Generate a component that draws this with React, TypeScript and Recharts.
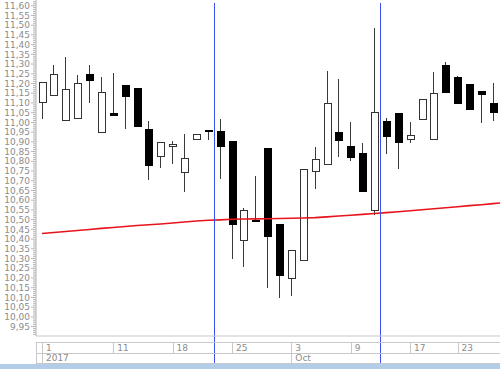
import React from "react";
import { ComposedChart, Bar, Line, XAxis, YAxis, ReferenceLine } from "recharts";

// ---- data ----
const sessions = [
  "Sep 1", "Sep 4", "Sep 5", "Sep 6", "Sep 7", "Sep 8", "Sep 11", "Sep 12", "Sep 13", "Sep 14",
  "Sep 15", "Sep 18", "Sep 19", "Sep 20", "Sep 21", "Sep 22", "Sep 25", "Sep 26", "Sep 27", "Sep 28",
  "Sep 29", "Oct 3", "Oct 4", "Oct 5", "Oct 6", "Oct 7", "Oct 9", "Oct 10", "Oct 11", "Oct 12",
  "Oct 13", "Oct 17", "Oct 18", "Oct 19", "Oct 20", "Oct 23", "Oct 24", "Oct 25", "Oct 26", "Oct 27",
];

const open = [
  11.1, 11.14, 11.01, 11.02, 11.247, 10.95, 11.047, 11.189, 11.175, 10.961,
  10.824, 10.875, 10.743, 10.913, 10.957, 10.954, 10.9, 10.395, 10.498, 10.865,
  10.474, 10.195, 10.2925, 10.745, 10.785, 10.947, 10.877, 10.839, 10.546, 11.004,
  11.048, 10.913, 11.014, 10.913, 11.295, 11.232, 11.196, 11.161, 11.096, null,
];
const high = [
  11.21, 11.295, 11.338, 11.244, 11.295, 11.235, 11.254, 11.19, 11.175, 11.006,
  10.899, 10.904, 10.939, 10.939, 10.957, 11.016, 10.9, 10.558, 10.724, 10.865,
  10.474, 10.339, 10.759, 10.876, 11.266, 11.222, 11.004, 10.8925, 11.487, 11.021,
  11.048, 11.004, 11.12, 11.258, 11.31, 11.24, 11.196, 11.161, 11.203, null,
];
const low = [
  11.02, 11.14, 11.01, 11.02, 11.1, 10.95, 11.037, 10.965, 10.98, 10.704,
  10.767, 10.786, 10.644, 10.913, 10.91, 10.709, 10.296, 10.258, 10.496, 10.147,
  10.096, 10.109, 10.2925, 10.66, 10.785, 10.824, 10.8, 10.644, 10.524, 10.836,
  10.759, 10.896, 11.014, 10.913, 11.156, 11.095, 11.064, 10.999, 11.009, null,
];
const close = [
  11.205, 11.247, 11.167, 11.2, 11.216, 11.156, 11.037, 11.134, 10.98, 10.776,
  10.899, 10.887, 10.812, 10.939, 10.953, 10.875, 10.4725, 10.546, 10.496, 10.414,
  10.215, 10.339, 10.759, 10.81, 11.096, 10.908, 10.818, 10.644, 11.052, 10.9285,
  10.896, 10.935, 11.12, 11.15, 11.156, 11.095, 11.064, 11.141, 11.052, null,
];
const movingAvg = [
  10.429, 10.434, 10.439, 10.444, 10.449, 10.455, 10.46, 10.465, 10.47, 10.4735,
  10.478, 10.483, 10.488, 10.493, 10.497, 10.499, 10.502, 10.503, 10.504, 10.505,
  10.506, 10.5075, 10.5085, 10.5105, 10.5145, 10.519, 10.523, 10.527, 10.532, 10.536,
  10.541, 10.5455, 10.551, 10.556, 10.561, 10.566, 10.572, 10.577, 10.5825, 10.588,
];

const dayTickIndex = [0, 6, 11, 16, 21, 26, 31, 35];
const dayTickLabels = ["1", "11", "18", "25", "3", "9", "17", "23"];
const periodTickIndex = [0, 21];
const periodTickLabels = ["2017", "Oct"];
const markerSessions = ["Sep 22", "Oct 12"];

const Y_MIN = 9.9018;
const Y_MAX = 11.6293;
const yTicks: number[] = [];
for (let k = 991; k <= 1162; k++) yTicks.push(k / 100);

const data = sessions.map((s, i) => ({
  s,
  open: open[i],
  high: high[i],
  low: low[i],
  close: close[i],
  ma: movingAvg[i],
}));

// ---- layout constants ----
const CHART_W = 511;
const CHART_H = 369;
const Y_AXIS_W = 36;
const X_AXIS_H = 33;
const BAND = (CHART_W - Y_AXIS_W) / sessions.length;
const TABLE_TOP = 342.5;
const TABLE_MID = 353.5;
const TABLE_BOT = 363.5;
const FONT = "'DejaVu Sans', Verdana, sans-serif";
const TEXT_COLOR = "#8c8c8c";
const GRID_COLOR = "#c8c8c8";
const MARKER_COLOR = "#3b4ef0";

const Candle = (props: any) => {
  const { x, y, width, height, payload } = props;
  if (payload == null || payload.high == null) return null;
  const cx = Math.round(x + width / 2) + 0.5;
  const yTop = Math.min(y, y + height);
  const yBot = Math.max(y, y + height);
  const range = payload.high - payload.low;
  const toY = (v: number) => (range === 0 ? yTop : yTop + ((payload.high - v) / range) * (yBot - yTop));
  const yo = toY(payload.open);
  const yc = toY(payload.close);
  const up = payload.close > payload.open;
  const bTop = Math.min(yo, yc);
  const bH = Math.max(Math.abs(yo - yc), 1);
  return (
    <g shapeRendering="crispEdges">
      <line x1={cx} x2={cx} y1={yTop} y2={yBot} stroke="#3a3a3a" strokeWidth={1} />
      <rect
        x={cx - 3.5}
        y={bTop}
        width={7}
        height={bH}
        fill={up ? "#ffffff" : "#000000"}
        stroke={up ? "#333333" : "#000000"}
        strokeWidth={1}
      />
    </g>
  );
};

const YTick = (props: any) => {
  const { y, payload } = props;
  const v = payload.value as number;
  const k = Math.round(v * 100);
  const major = k % 5 === 0;
  return (
    <g>
      <line x1={major ? 31 : 33} x2={Y_AXIS_W} y1={y} y2={y} stroke="#b5b5b5" strokeWidth={1} />
      {major && (
        <text x={30} y={y + 3.2} textAnchor="end" fontFamily={FONT} fontSize={9} fill={TEXT_COLOR}>
          {v.toFixed(2).replace(".", ",")}
        </text>
      )}
    </g>
  );
};

const XTick = (props: any) => {
  const { x, index } = props;
  const half = BAND / 2;
  const di = dayTickIndex.indexOf(index);
  const pi = periodTickIndex.indexOf(index);
  const vx = Math.round(x) + 0.5;
  return (
    <g shapeRendering="crispEdges">
      <line x1={x - half} x2={x + half} y1={TABLE_TOP} y2={TABLE_TOP} stroke={GRID_COLOR} />
      <line x1={x - half} x2={x + half} y1={TABLE_MID} y2={TABLE_MID} stroke={GRID_COLOR} />
      <line x1={x - half} x2={x + half} y1={TABLE_BOT} y2={TABLE_BOT} stroke={GRID_COLOR} />
      {index === 0 && (
        <line x1={Math.round(x - half) + 0.5} x2={Math.round(x - half) + 0.5} y1={TABLE_TOP} y2={TABLE_BOT} stroke={GRID_COLOR} />
      )}
      {di >= 0 && (
        <g>
          <line x1={vx} x2={vx} y1={TABLE_TOP} y2={TABLE_MID} stroke={GRID_COLOR} />
          <text x={x + 4} y={TABLE_MID - 3} fontFamily={FONT} fontSize={9} fill={TEXT_COLOR} shapeRendering="auto">
            {dayTickLabels[di]}
          </text>
        </g>
      )}
      {pi >= 0 && (
        <g>
          <line x1={vx} x2={vx} y1={TABLE_MID} y2={TABLE_BOT} stroke={GRID_COLOR} />
          <text x={x + 4} y={TABLE_BOT - 2.5} fontFamily={FONT} fontSize={9} fill={TEXT_COLOR} shapeRendering="auto">
            {periodTickLabels[pi]}
          </text>
        </g>
      )}
    </g>
  );
};

const Marker = (p: any) => {
  const xx = Math.round(p.x1) + 0.5;
  const top = Math.min(p.y1, p.y2);
  return (
    <line x1={xx} x2={xx} y1={top + 3} y2={TABLE_BOT + 0.5} stroke={MARKER_COLOR} strokeWidth={1} shapeRendering="crispEdges" />
  );
};

export default function App() {
  return (
    <div
      style={{
        position: "absolute",
        left: 0,
        top: 0,
        width: 500,
        height: 369,
        overflow: "hidden",
        background: "#ffffff",
      }}
    >
      <ComposedChart width={CHART_W} height={CHART_H} data={data} margin={{ top: 0, right: 0, bottom: 0, left: 0 }}>
        <XAxis
          dataKey="s"
          type="category"
          height={X_AXIS_H}
          interval={0}
          tickLine={false}
          axisLine={{ stroke: GRID_COLOR }}
          tick={<XTick />}
        />
        <YAxis
          type="number"
          domain={[Y_MIN, Y_MAX]}
          allowDataOverflow
          ticks={yTicks}
          interval={0}
          width={Y_AXIS_W}
          tickLine={false}
          axisLine={{ stroke: "#b5b5b5" }}
          tick={<YTick />}
        />
        <Bar
          dataKey={(d: any) => (d.high == null ? null : [d.low, d.high])}
          barSize={7}
          shape={<Candle />}
          isAnimationActive={false}
        />
        <Line
          type="linear"
          dataKey="ma"
          stroke="#e8141c"
          strokeWidth={1.6}
          dot={false}
          activeDot={false}
          isAnimationActive={false}
        />
        {markerSessions.map((m) => (
          <ReferenceLine
            key={m}
            x={m}
            position="start"
            stroke={MARKER_COLOR}
            shape={(p: any) => <Marker {...p} />}
          />
        ))}
      </ComposedChart>
      <div
        style={{
          position: "absolute",
          left: 0,
          top: 364,
          width: 500,
          height: 5,
          background: "#b3cce8",
        }}
      />
    </div>
  );
}
